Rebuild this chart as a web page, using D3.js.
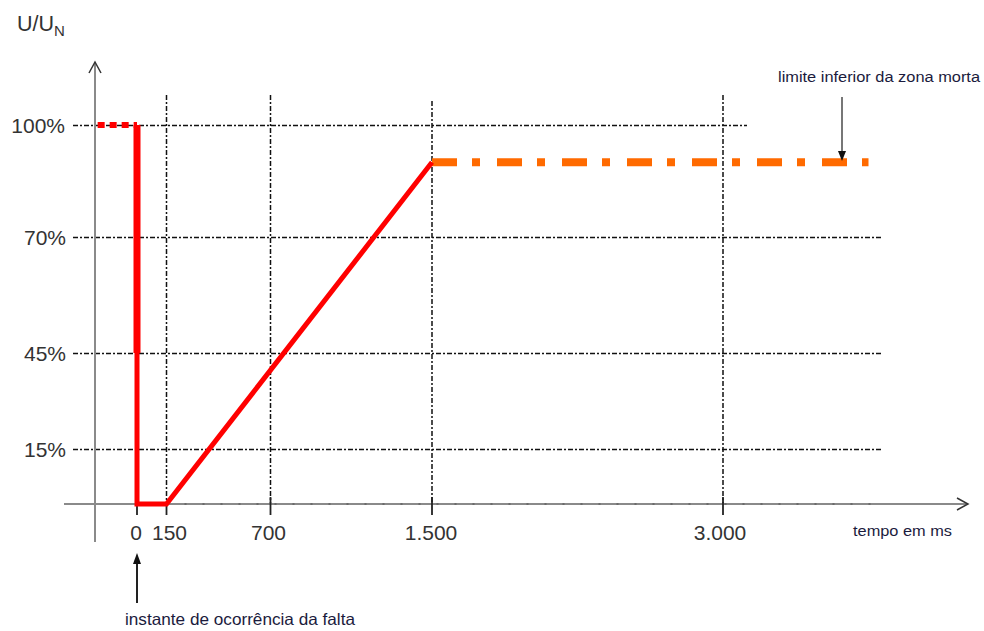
<!DOCTYPE html>
<html>
<head>
<meta charset="utf-8">
<script src="https://cdn.jsdelivr.net/npm/d3@7"></script>
<style>
  html, body { margin: 0; padding: 0; background: #fff; }
  svg { display: block; }
  text { font-family: Arial, "Liberation Sans", sans-serif; }
</style>
</head>
<body>
<svg id="chart" width="984" height="631"></svg>
<script>
// ---- data ----
const xTickValues = [0, 150, 700, 1500, 3000];
const xTickLabels = ["0", "150", "700", "1.500", "3.000"];
const yTickValues = [15, 45, 70, 100];
const yTickLabels = ["15%", "45%", "70%", "100%"];
const xGridValues = [150, 700, 1500, 3000];

// pre-fault voltage (dotted)
const preTimes = [-200, 0];
const preVolts = [100, 100];
// fault profile (solid red)
const faultTimes = [0, 0, 150, 1500];
const faultVolts = [100, 0, 0, 90];
// thick upper portion of the drop
const dropTimes = [0, 0];
const dropVolts = [100, 45];
// lower limit of dead zone (orange dash-dot)
const limitTimes = [1500, 3750];
const limitVolts = [90, 90];

const yLabel = "U/U";
const yLabelSub = "N";
const xLabel = "tempo em ms";
const faultNote = "instante de ocorrência da falta";
const limitNote = "limite inferior da zona morta";

// ---- scales (schematic, piecewise) ----
const x = d3.scaleLinear().domain(xTickValues).range([137, 166.5, 270.5, 432, 723]);
const y = d3.scaleLinear().domain([0, 15, 45, 70, 100]).range([504, 449, 353, 237, 125]);

const svg = d3.select("#chart");
const toPts = (ts, vs) => ts.map((t, i) => [x(t), y(vs[i])]);
const line = d3.line();

// ---- grid ----
const grid = svg.append("g").attr("stroke", "#111").attr("stroke-width", 1.5)
  .attr("stroke-dasharray", "5,2,2,2").attr("fill", "none");
yTickValues.forEach(v => {
  grid.append("line")
    .attr("x1", 73).attr("x2", v === 100 ? 747 : 881)
    .attr("y1", Math.round(y(v)) + 0.5).attr("y2", Math.round(y(v)) + 0.5);
});
xGridValues.forEach(v => {
  grid.append("line")
    .attr("x1", x(v)).attr("x2", x(v))
    .attr("y1", v === 1500 ? 101 : 95).attr("y2", y(0));
});

// ---- axes ----
const axes = svg.append("g");
axes.append("line").attr("x1", 95).attr("x2", 95).attr("y1", 62).attr("y2", 542)
  .attr("stroke", "#8a8a8a").attr("stroke-width", 2);
axes.append("line").attr("x1", 64).attr("x2", 967).attr("y1", y(0)).attr("y2", y(0))
  .attr("stroke", "#8a8a8a").attr("stroke-width", 2);
// faint dotted over x axis
axes.append("line").attr("x1", x(150)).attr("x2", 881).attr("y1", y(0)).attr("y2", y(0))
  .attr("stroke", "#333").attr("stroke-width", 1).attr("stroke-dasharray", "2,16").attr("opacity", 0.7);
// arrow heads (open chevrons)
axes.append("path").attr("d", "M89,73 L95,62 L101,73").attr("fill", "none")
  .attr("stroke", "#333").attr("stroke-width", 1.5);
axes.append("path").attr("d", "M957,498 L968,504 L957,510").attr("fill", "none")
  .attr("stroke", "#333").attr("stroke-width", 1.5);

// x ticks
svg.append("g").selectAll("line").data(xTickValues).join("line")
  .attr("x1", d => x(d)).attr("x2", d => x(d))
  .attr("y1", d => d >= 700 ? 497 : 505).attr("y2", 515)
  .attr("stroke", "#222").attr("stroke-width", 1.8);

// x tick labels
svg.append("g").selectAll("text").data(xTickValues).join("text")
  .attr("x", (d, i) => x(d) + (i === 1 ? 3 : i === 2 ? -2 : i === 4 ? -3 : -1))
  .attr("y", 540)
  .attr("text-anchor", "middle")
  .attr("font-size", 21).attr("fill", "#333")
  .text((d, i) => xTickLabels[i]);

// y tick labels
svg.append("g").selectAll("text").data(yTickValues).join("text")
  .attr("x", d => d === 100 ? 65 : 66)
  .attr("y", d => y(d))
  .attr("dy", "0.36em")
  .attr("text-anchor", "end")
  .attr("font-size", 21).attr("fill", "#333")
  .text((d, i) => yTickLabels[i]);

// y axis title
const yt = svg.append("text").attr("x", 17).attr("y", 31).attr("font-size", 21.5).attr("fill", "#333");
yt.append("tspan").text(yLabel);
yt.append("tspan").attr("dy", 5).attr("font-size", 15).text(yLabelSub);

// ---- series ----
svg.append("path").attr("d", line(toPts(limitTimes, limitVolts)))
  .attr("fill", "none").attr("stroke", "#ff6a00").attr("stroke-width", 8)
  .attr("stroke-dasharray", "25,15,8,17");

svg.append("path").attr("d", line(toPts(preTimes, preVolts)))
  .attr("fill", "none").attr("stroke", "#ff0000").attr("stroke-width", 6)
  .attr("stroke-dasharray", "7,5");

svg.append("path").attr("d", line(toPts(faultTimes, faultVolts)))
  .attr("fill", "none").attr("stroke", "#ff0000").attr("stroke-width", 5)
  .attr("stroke-linejoin", "miter");

svg.append("path").attr("d", line(toPts(dropTimes, dropVolts)))
  .attr("fill", "none").attr("stroke", "#ff0000").attr("stroke-width", 7);

// ---- annotations ----
// fault instant arrow
svg.append("line").attr("x1", x(0)).attr("x2", x(0)).attr("y1", 562).attr("y2", 603)
  .attr("stroke", "#222").attr("stroke-width", 2);
svg.append("path").attr("d", `M${x(0)},553 L${x(0) - 4},564 L${x(0) + 4},564 Z`).attr("fill", "#111");
svg.append("text").attr("x", 125).attr("y", 625).attr("font-size", 16.5)
  .attr("fill", "#1b1b3d").attr("textLength", 230).attr("lengthAdjust", "spacingAndGlyphs")
  .text(faultNote);

// dead-zone arrow
svg.append("line").attr("x1", 842).attr("x2", 842).attr("y1", 97).attr("y2", 152)
  .attr("stroke", "#777").attr("stroke-width", 2);
svg.append("path").attr("d", "M838,151 L846,151 L842,161 Z").attr("fill", "#111");
svg.append("text").attr("x", 778).attr("y", 82).attr("font-size", 15.5)
  .attr("fill", "#1b1b3d").attr("textLength", 202).attr("lengthAdjust", "spacingAndGlyphs")
  .text(limitNote);

svg.append("text").attr("x", 853).attr("y", 536).attr("font-size", 15.5)
  .attr("fill", "#1b1b3d").attr("textLength", 99).attr("lengthAdjust", "spacingAndGlyphs")
  .text(xLabel);
</script>
</body>
</html>
